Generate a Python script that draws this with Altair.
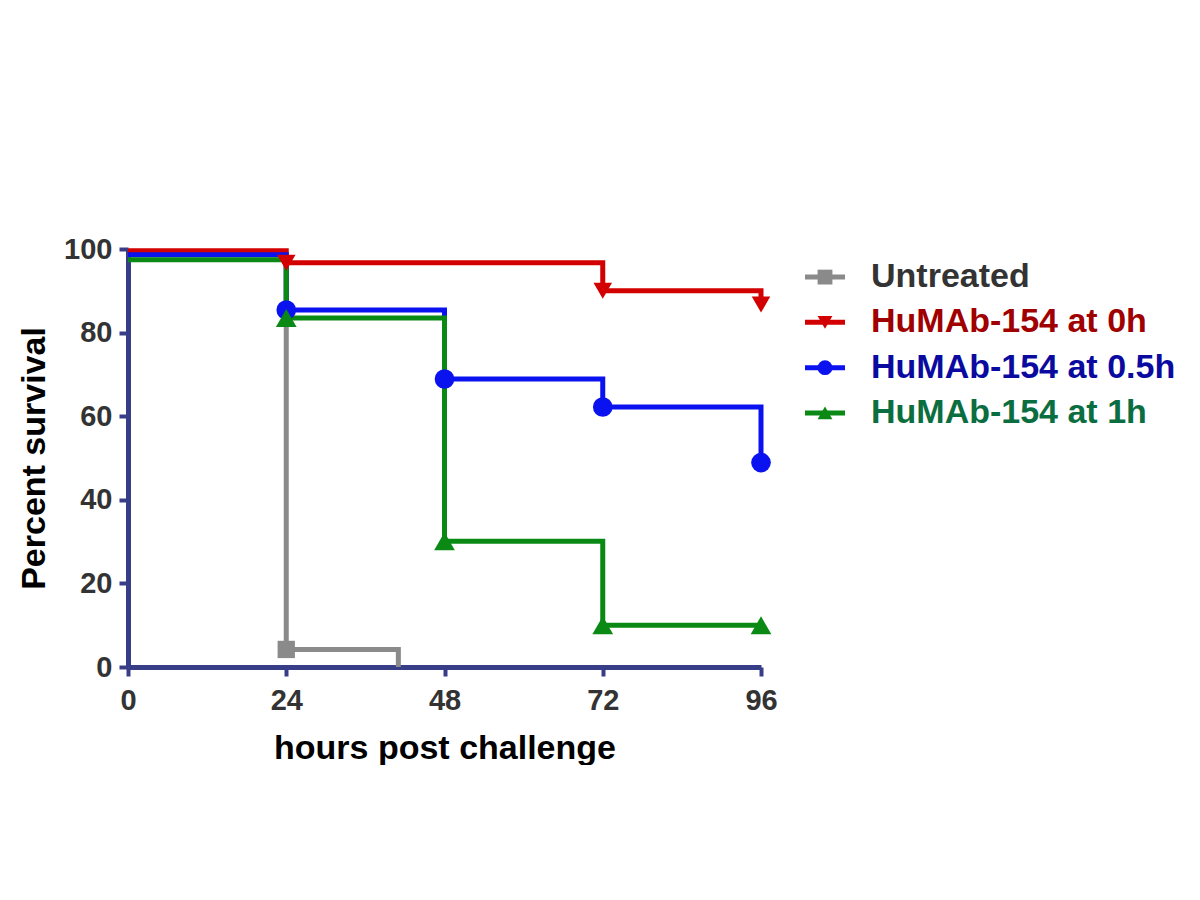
import altair as alt
import pandas as pd

# ---- data ----
series_names = ["Untreated", "HuMAb-154 at 0h", "HuMAb-154 at 0.5h", "HuMAb-154 at 1h"]
line_colors = ["#8a8a8a", "#d20000", "#0a12f0", "#0a8a14"]
label_colors = ["#333333", "#a00000", "#0a0aa0", "#0b6e40"]
marker_shapes = ["square", "triangle-down", "circle", "triangle-up"]
marker_sizes = [300, 430, 300, 430]

untreated_hours = [0, 24, 41]
untreated_pct = [98.6, 4.2, 0.0]
untreated_marker = [False, True, False]

h0_hours = [0, 24, 72, 96]
h0_pct = [99.6, 96.7, 90.0, 86.7]
h0_marker = [False, True, True, True]

h05_hours = [0, 24, 48, 72, 96]
h05_pct = [98.6, 85.4, 68.9, 62.2, 48.9]
h05_marker = [False, True, True, True, True]

h1_hours = [0, 24, 48, 72, 96]
h1_pct = [97.4, 83.5, 30.1, 10.0, 10.0]
h1_marker = [False, True, True, True, True]

x_ticks = [0, 24, 48, 72, 96]
y_ticks = [0, 20, 40, 60, 80, 100]

FONT = "Liberation Sans"
AXIS_COLOR = "#383d87"

series_data = [
    (series_names[0], untreated_hours, untreated_pct, untreated_marker),
    (series_names[1], h0_hours, h0_pct, h0_marker),
    (series_names[2], h05_hours, h05_pct, h05_marker),
    (series_names[3], h1_hours, h1_pct, h1_marker),
]

frames = []
for name, hrs, pct, mk in series_data:
    frames.append(pd.DataFrame({"series": name, "hours": hrs, "pct": pct, "marker": mk}))

color_scale = alt.Scale(domain=series_names, range=line_colors)
shape_scale = alt.Scale(domain=series_names, range=marker_shapes)
size_scale = alt.Scale(domain=series_names, range=marker_sizes)

x_enc = alt.X("hours:Q", scale=alt.Scale(domain=[0, 96], nice=False),
              axis=alt.Axis(values=x_ticks, title="hours post challenge",
                            labelPadding=10, titlePadding=16, labelFlush=False))
y_enc = alt.Y("pct:Q", scale=alt.Scale(domain=[0, 100], nice=False),
              axis=alt.Axis(values=y_ticks, title="Percent survival",
                            labelPadding=7, titlePadding=12, labelFlush=False))

line_layers = []
point_layers = []
for df in frames:
    base = alt.Chart(df)
    line_layers.append(
        base.mark_line(interpolate="step-after", strokeWidth=5).encode(
            x=x_enc, y=y_enc,
            color=alt.Color("series:N", scale=color_scale, legend=None),
        )
    )
    point_layers.append(
        base.transform_filter(alt.datum.marker).mark_point(
            filled=True, opacity=1
        ).encode(
            x=x_enc, y=y_enc,
            color=alt.Color("series:N", scale=color_scale, legend=None),
            shape=alt.Shape("series:N", scale=shape_scale, legend=None),
            size=alt.Size("series:N", scale=size_scale, legend=None),
        )
    )

main = alt.layer(*line_layers, *point_layers).properties(width=633, height=418)

# ---- manual legend (label colours differ per entry) ----
legend_df = pd.DataFrame({"series": series_names})
ly = alt.Y("series:N", scale=alt.Scale(type="point", domain=series_names, padding=0.62),
           axis=None)
lbase = alt.Chart(legend_df)
leg_rule = lbase.mark_rule(strokeWidth=5).encode(
    x=alt.value(0), x2=alt.value(40), y=ly,
    color=alt.Color("series:N", scale=color_scale, legend=None),
)
leg_pt = lbase.mark_point(filled=True, size=220, opacity=1).encode(
    x=alt.value(20), y=ly,
    color=alt.Color("series:N", scale=color_scale, legend=None),
    shape=alt.Shape("series:N", scale=shape_scale, legend=None),
)
leg_txt = lbase.mark_text(align="left", baseline="middle", font=FONT,
                          fontSize=34, fontWeight="bold").encode(
    x=alt.value(66), y=ly, text="series:N",
    fill=alt.Fill("series:N", scale=alt.Scale(domain=series_names, range=label_colors),
                  legend=None),
)
legend = alt.layer(leg_rule, leg_pt, leg_txt).properties(width=380, height=192)

chart = alt.hconcat(main, legend, spacing=44, bounds="flush").properties(
    padding={"left": 9, "top": 227, "right": 0, "bottom": 0}
).configure_view(stroke=None).configure_axis(
    grid=False,
    domainColor=AXIS_COLOR, domainWidth=5,
    tickColor=AXIS_COLOR, tickWidth=4, tickSize=9,
    labelFont=FONT, labelFontSize=29, labelFontWeight="bold", labelColor="#333333",
    titleFont=FONT, titleFontSize=34, titleFontWeight="bold", titleColor="#000000",
)

chart.save("out.html", embed_options={"renderer": "svg", "actions": False})
